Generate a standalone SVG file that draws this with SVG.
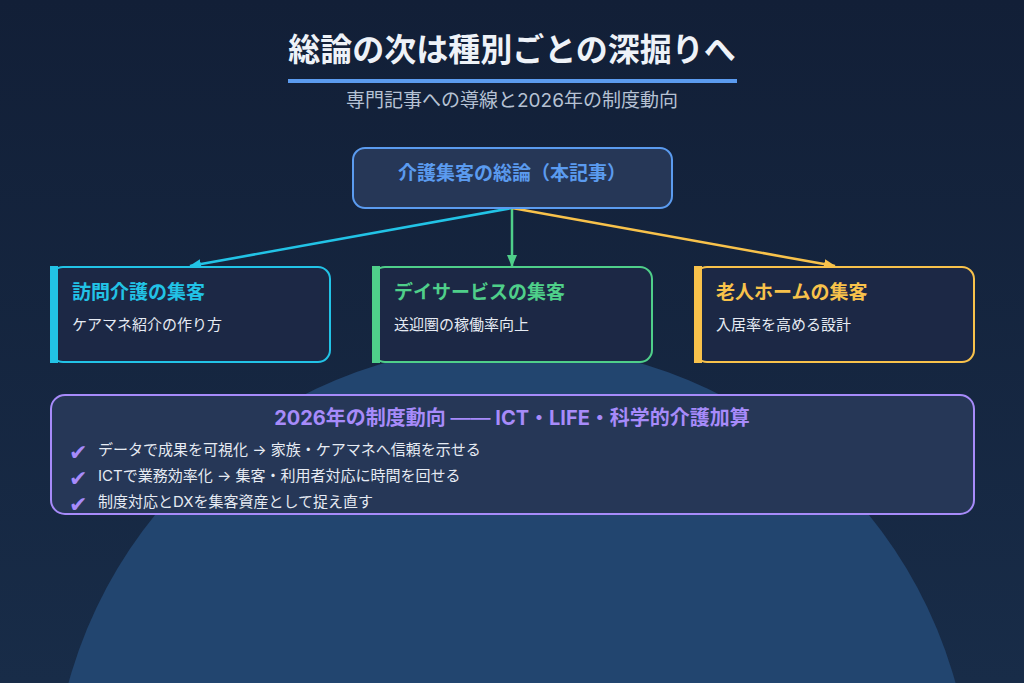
<svg xmlns="http://www.w3.org/2000/svg" width="1024" height="683" viewBox="0 0 1024 683">
<defs>
<linearGradient id="bg" x1="0" y1="0" x2="0" y2="1">
<stop offset="0" stop-color="#121f37"/>
<stop offset="1" stop-color="#182c48"/>
</linearGradient>
<marker id="aC" markerWidth="12" markerHeight="10" refX="11" refY="5" orient="auto" markerUnits="userSpaceOnUse"><path d="M0,0 L12,5 L0,10 z" fill="#22c3e6"/></marker>
<marker id="aG" markerWidth="12" markerHeight="10" refX="11" refY="5" orient="auto" markerUnits="userSpaceOnUse"><path d="M0,0 L12,5 L0,10 z" fill="#4fcf8a"/></marker>
<marker id="aY" markerWidth="12" markerHeight="10" refX="11" refY="5" orient="auto" markerUnits="userSpaceOnUse"><path d="M0,0 L12,5 L0,10 z" fill="#f8c24b"/></marker>
<style>
text{font-family:"Inter","Noto Sans CJK JP",sans-serif;}
.title{font-size:32px;font-weight:700;fill:#eef2f8;}
.sub{font-size:19px;fill:#b6c2d4;}
.card{fill:#1c2845;stroke-width:2;}
.ct{font-size:19px;font-weight:700;}
.cs{font-size:15px;fill:#e6ebf3;}
.bl{font-size:15px;fill:#e6ebf3;}
.chk{font-size:22px;fill:#a78bfa;font-family:"DejaVu Sans",sans-serif;}
.conn{fill:none;stroke-width:2.5;}
</style>
</defs>
<rect width="1024" height="683" fill="url(#bg)"/>
<circle cx="512" cy="805" r="460" fill="#22456f"/>

<g id="header">
<text class="title" x="512" y="61" text-anchor="middle">総論の次は種別ごとの深掘りへ</text>
<rect x="288" y="79" width="449" height="4" fill="#5b9bef"/>
<text class="sub" x="512" y="107" text-anchor="middle">専門記事への導線と2026年の制度動向</text>
</g>

<g id="connectors">
<line class="conn" x1="512" y1="208" x2="190" y2="266" stroke="#22c3e6" marker-end="url(#aC)"/>
<line class="conn" x1="512" y1="208" x2="512" y2="266" stroke="#4fcf8a" marker-end="url(#aG)"/>
<line class="conn" x1="512" y1="208" x2="835" y2="266" stroke="#f8c24b" marker-end="url(#aY)"/>
</g>

<g id="hub">
<rect x="353" y="148" width="319" height="60" rx="12" fill="#263757" stroke="#5b9bef" stroke-width="2"/>
<text x="512" y="180" text-anchor="middle" font-size="19" font-weight="700" fill="#5b9bef">介護集客の総論（本記事）</text>
</g>

<g id="card-home-care">
<rect class="card" x="51" y="267" width="279" height="95" rx="12" stroke="#22c3e6"/>
<rect x="50" y="266" width="8" height="97" fill="#22c3e6"/>
<text class="ct" x="72" y="299" fill="#22c3e6">訪問介護の集客</text>
<text class="cs" x="72" y="330">ケアマネ紹介の作り方</text>
</g>

<g id="card-day-service">
<rect class="card" x="373" y="267" width="279" height="95" rx="12" stroke="#4fcf8a"/>
<rect x="372" y="266" width="8" height="97" fill="#4fcf8a"/>
<text class="ct" x="394" y="299" fill="#4fcf8a">デイサービスの集客</text>
<text class="cs" x="394" y="330">送迎圏の稼働率向上</text>
</g>

<g id="card-nursing-home">
<rect class="card" x="695" y="267" width="279" height="95" rx="12" stroke="#f8c24b"/>
<rect x="694" y="266" width="8" height="97" fill="#f8c24b"/>
<text class="ct" x="716" y="299" fill="#f8c24b">老人ホームの集客</text>
<text class="cs" x="716" y="330">入居率を高める設計</text>
</g>

<g id="policy">
<rect x="51" y="395" width="923" height="119" rx="14" fill="#263757" stroke="#a78bfa" stroke-width="2"/>
<text x="512" y="425" text-anchor="middle" font-size="20" font-weight="700" fill="#a78bfa">2026年の制度動向 <tspan font-weight="400">——</tspan> ICT・LIFE・科学的介護加算</text>
<text class="chk" x="69" y="460">✔</text>
<text class="bl" x="98" y="455">データで成果を可視化 → 家族・ケアマネへ信頼を示せる</text>
<text class="chk" x="69" y="486">✔</text>
<text class="bl" x="98" y="481">ICTで業務効率化 → 集客・利用者対応に時間を回せる</text>
<text class="chk" x="69" y="512">✔</text>
<text class="bl" x="98" y="507">制度対応とDXを集客資産として捉え直す</text>
</g>
</svg>
